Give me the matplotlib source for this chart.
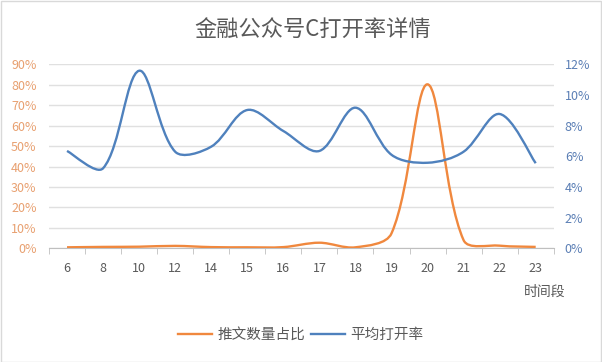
import numpy as np
import matplotlib
matplotlib.use('Agg')
import matplotlib.pyplot as plt
from matplotlib.path import Path
from matplotlib.patches import PathPatch, Rectangle
from matplotlib.lines import Line2D
from matplotlib.ticker import FuncFormatter

plt.rcParams['font.family'] = ['Noto Sans CJK SC', 'DejaVu Sans']

hours = ['6', '8', '10', '12', '14', '15', '16', '17', '18', '19', '20', '21', '22', '23']
share = [0.5, 0.7, 0.8, 1.2, 0.6, 0.5, 0.6, 2.75, 0.5, 7.3, 80.2, 4.0, 1.3, 0.7]      # 推文数量占比 (%)
open_rate = [6.35, 5.22, 11.58, 6.3, 6.63, 9.02, 7.65, 6.35, 9.17, 6.1, 5.58, 6.3, 8.76, 5.55]  # 平均打开率 (%)

c_orange = '#F0883E'
c_blue = '#4F81BD'
c_grid = '#D9D9D9'
c_text = '#595959'


def smooth_path(y, yscale):
    # smoothed line like excel: tangent from both neighbours, handle lengths
    # split by the length of each side (worked out in screen-like units)
    y = np.asarray(y, dtype=float)
    pts = np.column_stack([np.arange(len(y), dtype=float), y * yscale])
    n = len(pts)
    seg = np.hypot(*(pts[1:] - pts[:-1]).T)
    h_out = []
    h_in = []
    for i in range(n):
        a = pts[max(i - 1, 0)]
        b = pts[min(i + 1, n - 1)]
        m = b - a
        dp = seg[i - 1] if i > 0 else 0.0
        dn = seg[i] if i < n - 1 else 0.0
        tot = dp + dn
        h_out.append(m * dn / tot / 3.0 if i > 0 else m / 6.0)
        h_in.append(m * dp / tot / 3.0 if i < n - 1 else m / 6.0)
    verts = [pts[0]]
    codes = [Path.MOVETO]
    for i in range(n - 1):
        verts += [pts[i] + h_out[i], pts[i + 1] - h_in[i + 1], pts[i + 1]]
        codes += [Path.CURVE4] * 3
    verts = np.array(verts)
    verts[:, 1] /= yscale
    return Path(verts, codes)


fig = plt.figure(figsize=(6.02, 3.62), dpi=100)
fig.patches.append(Rectangle((0.001, 0.001), 0.997, 0.996, transform=fig.transFigure,
                             fill=False, edgecolor=c_grid, linewidth=1))

ax = fig.add_axes([0.0814, 0.314, 0.8384, 0.5084])
ax2 = ax.twinx()

ax.set_xlim(-0.5, len(hours) - 0.5)
ax.set_ylim(0, 90)
ax2.set_ylim(0, 12)

ax.set_yticks(np.arange(0, 91, 10))
ax2.set_yticks(np.arange(0, 13, 2))
ax.yaxis.set_major_formatter(FuncFormatter(lambda v, p: '%d%%' % v))
ax2.yaxis.set_major_formatter(FuncFormatter(lambda v, p: '%d%%' % v))
ax.grid(axis='y', color='#E0E0E0', linewidth=1)
ax.set_axisbelow(True)

ax.set_xticks(np.arange(len(hours)))
ax.set_xticklabels(hours)
ax.set_xticks(np.arange(len(hours) + 1) - 0.5, minor=True)
ax.tick_params(axis='x', which='major', length=0, pad=10, labelsize=9, labelcolor=c_text)
ax.tick_params(axis='x', which='minor', length=4, color='#BFBFBF', direction='out')
ax.tick_params(axis='y', length=0, pad=9, labelsize=9, labelcolor='#E8A070')
ax2.tick_params(axis='y', length=0, pad=8, labelsize=9, labelcolor='#5B7FB5')

for a in (ax, ax2):
    for s in ('top', 'left', 'right'):
        a.spines[s].set_visible(False)
ax.spines['bottom'].set_color('#BFBFBF')
ax2.spines['bottom'].set_visible(False)

# px per category ~36, px per unit: 184/90 and 184/12
ax.add_patch(PathPatch(smooth_path(share, 2.044 / 36), facecolor='none',
                       edgecolor=c_orange, linewidth=1.7, zorder=3))
ax2.add_patch(PathPatch(smooth_path(open_rate, 15.33 / 36), facecolor='none',
                        edgecolor=c_blue, linewidth=1.7, zorder=3))

fig.text(0.52, 0.92, '金融公众号C打开率详情', ha='center', va='center', fontsize=16, color=c_text)
fig.text(0.905, 0.193, '时间段', ha='center', va='center', fontsize=10, color=c_text)

handles = [Line2D([], [], color=c_orange, linewidth=1.7), Line2D([], [], color=c_blue, linewidth=1.7)]
fig.legend(handles, ['推文数量占比', '平均打开率'], loc='center', bbox_to_anchor=(0.5, 0.075),
           ncol=2, frameon=False, fontsize=10.5, handlelength=2.3, columnspacing=0.4,
           handletextpad=0.4, labelcolor=c_text)

fig.savefig('out.png', dpi=100)
